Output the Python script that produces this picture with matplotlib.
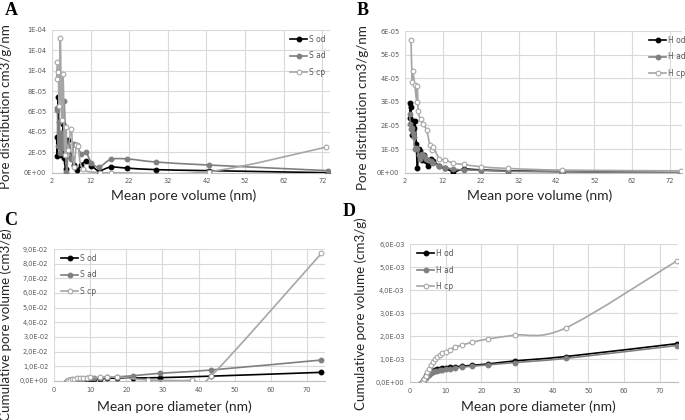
import numpy as np
import matplotlib
matplotlib.use("Agg")
import matplotlib.pyplot as plt
from matplotlib.path import Path
from matplotlib.patches import PathPatch
from matplotlib.lines import Line2D

# ---- data ----
# A: pore distribution, S samples
a_x = [3.2, 3.4, 3.6, 3.85, 4.2, 4.45, 4.9, 5.15, 5.75, 6.2, 7.05, 7.65, 8.5, 9.6, 10.8, 12.2, 14.2, 17.2, 21.5, 28.9, 42.7, 73.5]
a_od = [3.5, 1.6, 7.4, 2.6, 3.7, 1.7, 4.8, 1.4, 0.4, 3.2, 1.4, 0.8, 0.3, 0.8, 1.1, 0.7, 0.2, 0.55, 0.45, 0.3, 0.2, 0.0]
a_ad = [6.3, 6.2, 2.6, 5.0, 1.9, 3.9, 2.4, 7.0, 0.1, 2.4, 1.3, 2.8, 2.7, 1.8, 2.0, 1.0, 0.55, 1.3, 1.35, 1.05, 0.75, 0.2]
a_cp_x = [3.2, 3.4, 3.6, 3.9, 4.15, 4.5, 4.85, 5.3, 5.5, 6.1, 7.0, 7.6, 8.3, 8.8, 9.9, 14.4, 17.2, 42.6, 72.9]
a_cp = [9.2, 10.9, 9.9, 6.5, 13.2, 5.2, 9.7, 1.7, 4.5, 2.2, 4.3, 0.6, 2.7, 2.6, 0.4, 0.0, 0.0, 0.1, 2.5]

# B: pore distribution, H samples
b_x = [3.2, 3.4, 3.6, 3.8, 4.0, 4.3, 4.6, 5.0, 5.25, 5.6, 6.0, 6.5, 7.0, 7.5, 8.1, 8.8, 9.5, 11.0, 12.6, 14.8, 17.6, 22.0, 29.3, 43.6, 74.8]
b_od = [2.95, 2.3, 2.8, 1.6, 2.2, 1.9, 2.2, 1.2, 0.2, 1.0, 0.9, 0.55, 0.75, 0.5, 0.3, 0.6, 0.5, 0.3, 0.2, 0.05, 0.15, 0.12, 0.08, 0.05, 0.0]
b_ad = [2.5, 2.05, 1.85, 1.9, 1.7, 1.5, 1.0, 1.05, 1.0, 0.75, 0.6, 0.8, 0.7, 0.6, 0.55, 0.5, 0.4, 0.3, 0.22, 0.15, 0.12, 0.1, 0.06, 0.04, 0.0]
b_cp_x = [3.58, 3.9, 4.0, 4.6, 5.1, 5.26, 5.5, 6.1, 6.8, 7.7, 8.6, 9.2, 9.5, 11.0, 12.6, 14.8, 17.6, 22.0, 29.3, 43.6, 74.8]
b_cp = [5.62, 3.86, 4.32, 3.7, 3.0, 3.67, 2.6, 2.26, 2.05, 1.8, 1.17, 0.96, 1.1, 0.6, 0.54, 0.4, 0.35, 0.25, 0.18, 0.11, 0.08]

# C: cumulative pore volume, S samples (x 1e-2)
c_x = [3.5, 4.0, 4.5, 5.0, 5.6, 6.3, 7.1, 8.0, 9.0, 10.0, 11.2, 12.6, 14.6, 17.5, 21.9, 29.2, 43.4, 74.0]
c_od = [0.0, 0.02, 0.04, 0.06, 0.08, 0.09, 0.11, 0.12, 0.13, 0.15, 0.16, 0.17, 0.18, 0.2, 0.21, 0.23, 0.33, 0.59]
c_ad = [0.0, 0.03, 0.06, 0.08, 0.1, 0.12, 0.14, 0.16, 0.18, 0.2, 0.21, 0.23, 0.26, 0.29, 0.36, 0.52, 0.75, 1.43]
c_cp_x = [3.5, 4.0, 4.5, 5.0, 5.6, 6.3, 7.1, 8.0, 9.0, 10.0, 12.6, 14.6, 17.5, 26.0, 38.3, 43.4, 74.0]
c_cp = [0.0, 0.06, 0.1, 0.14, 0.17, 0.19, 0.2, 0.21, 0.22, 0.24, 0.24, 0.25, 0.27, 0.07, 0.05, 0.32, 8.7]

# D: cumulative pore volume, H samples (x 1e-3)
d_x = [3.4, 3.7, 4.0, 4.4, 4.9, 5.3, 5.9, 6.4, 7.0, 7.6, 8.3, 9.1, 10.0, 11.1, 12.6, 14.6, 17.5, 22.0, 29.4, 43.6, 74.8]
d_od = [0.0, 0.05, 0.15, 0.26, 0.36, 0.42, 0.47, 0.51, 0.54, 0.57, 0.59, 0.61, 0.63, 0.65, 0.67, 0.7, 0.74, 0.8, 0.93, 1.12, 1.68]
d_ad = [0.0, 0.03, 0.1, 0.18, 0.27, 0.33, 0.39, 0.43, 0.47, 0.5, 0.53, 0.55, 0.58, 0.6, 0.62, 0.66, 0.7, 0.76, 0.86, 1.04, 1.6]
d_cp = [0.0, 0.05, 0.15, 0.27, 0.45, 0.6, 0.75, 0.89, 1.0, 1.1, 1.2, 1.28, 1.33, 1.42, 1.52, 1.62, 1.74, 1.89, 2.05, 2.36, 5.28]

a_yticklabels = ["0E+00", "2E-05", "4E-05", "6E-05", "8E-05", "1E-04", "1E-04", "1E-04"]
b_yticklabels = ["0E+00", "1E-05", "2E-05", "3E-05", "4E-05", "5E-05", "6E-05"]
c_yticklabels = ["0,0E+00", "1,0E-02", "2,0E-02", "3,0E-02", "4,0E-02", "5,0E-02", "6,0E-02", "7,0E-02", "8,0E-02", "9,0E-02"]
d_yticklabels = ["0,0E+00", "1,0E-03", "2,0E-03", "3,0E-03", "4,0E-03", "5,0E-03", "6,0E-03"]

LABEL_FONT = "Lato"
XLABEL_SIZE = 10
YLABEL_SIZE = 9.6
GRID = "#d9d9d9"
TICK = "#595959"
styles = {
    "od": dict(line="#000000", face="#000000", edge="#000000"),
    "ad": dict(line="#7f7f7f", face="#7f7f7f", edge="#7f7f7f"),
    "cp": dict(line="#a6a6a6", face="#ffffff", edge="#a6a6a6"),
}


def smooth_line(ax, x, y, color, z):
    # excel-like smoothed line (catmull-rom as cubic bezier)
    pts = np.column_stack([x, y]).astype(float)
    n = len(pts)
    verts = [pts[0]]
    codes = [Path.MOVETO]
    for i in range(n - 1):
        p0 = pts[i - 1] if i > 0 else pts[i]
        p1 = pts[i]
        p2 = pts[i + 1]
        p3 = pts[i + 2] if i + 2 < n else pts[i + 1]
        verts += [p1 + (p2 - p0) / 6, p2 - (p3 - p1) / 6, p2]
        codes += [Path.CURVE4] * 3
    ax.add_patch(PathPatch(Path(verts, codes), fill=False, edgecolor=color,
                           lw=1.2, zorder=z, capstyle="round"))


def panel(rect, series, xlim, xticks, yscale, ymax, ystep, ylabels,
          xlabel, ylabel, legloc, legbox):
    ax = fig.add_axes(rect)
    z = 3
    handles = []
    for name, x, y in series:
        st = styles[name[-2:]]
        yy = np.array(y) * yscale
        smooth_line(ax, x, yy, st["line"], z)
        ax.plot(x, yy, ls="none", marker="o", ms=3.4, mfc=st["face"],
                mec=st["edge"], mew=0.8, zorder=z + 0.5)
        handles.append(Line2D([], [], color=st["line"], lw=1.2, marker="o", ms=3.4,
                              mfc=st["face"], mec=st["edge"], mew=0.8, label=name))
        z += 1
    ax.set_xlim(*xlim)
    ax.set_ylim(0, ymax)
    ax.set_xticks(xticks)
    ax.set_yticks(np.arange(len(ylabels)) * ystep, ylabels)
    ax.grid(True, color=GRID, lw=0.8)
    ax.set_axisbelow(True)
    for s in ["top", "right", "left"]:
        ax.spines[s].set_visible(False)
    ax.spines["bottom"].set_color("#bfbfbf")
    ax.spines["bottom"].set_linewidth(0.8)
    ax.tick_params(length=0, labelsize=4.8, labelcolor=TICK, pad=4)
    ax.set_xlabel(xlabel, fontsize=XLABEL_SIZE, family=LABEL_FONT, color="#262626")
    ax.set_ylabel(ylabel, fontsize=YLABEL_SIZE, family=LABEL_FONT, color="#262626")
    leg = ax.legend(handles=handles, loc=legloc, bbox_to_anchor=legbox, frameon=False,
                    fontsize=5.5, handlelength=2.2, handletextpad=0.2,
                    labelspacing=1.0, borderaxespad=0.2)
    for t in leg.get_texts():
        t.set_color(TICK)
    return ax


fig = plt.figure(figsize=(6.85, 4.2), dpi=100)
W, H = 685.0, 420.0


def rect(l, r, t, b):
    return [l / W, 1 - b / H, (r - l) / W, (b - t) / H]


ax_a = panel(rect(52, 330, 30, 172.7),
             [("S od", a_x, a_od), ("S ad", a_x, a_ad), ("S cp", a_cp_x, a_cp)],
             (2, 74.0), np.arange(2, 73, 10), 1e-5, 1.4e-4, 2e-5, a_yticklabels,
             "Mean pore volume (nm)", "Pore distribution cm3/g/nm",
             "upper right", (1.0, 1.0))
ax_b = panel(rect(405, 681.7, 31, 172.7),
             [("H od", b_x, b_od), ("H ad", b_x, b_ad), ("H cp", b_cp_x, b_cp)],
             (2, 75.1), np.arange(2, 73, 10), 1e-5, 6e-5, 1e-5, b_yticklabels,
             "Mean pore volume (nm)", "Pore distribution cm3/g/nm",
             "upper right", (1.03, 1.0))
ax_c = panel(rect(54, 325, 249, 381),
             [("S od", c_x, c_od), ("S ad", c_x, c_ad), ("S cp", c_cp_x, c_cp)],
             (0, 75), np.arange(0, 71, 10), 1e-2, 9e-2, 1e-2, c_yticklabels,
             "Mean pore diameter (nm)", "Cumulative pore volume (cm3/g)",
             "upper left", (0.01, 1.0))
ax_d = panel(rect(410, 678.3, 244.3, 382.3),
             [("H od", d_x, d_od), ("H ad", d_x, d_ad), ("H cp", d_x, d_cp)],
             (0, 75.2), np.arange(0, 71, 10), 1e-3, 6e-3, 1e-3, d_yticklabels,
             "Mean pore diameter (nm)", "Cumulative pore volume (cm3/g)",
             "upper left", (0.01, 1.0))

# label positions (axes fractions)
ax_a.xaxis.set_label_coords(0.475, -0.12)
ax_a.yaxis.set_label_coords(-0.145, 0.46)
ax_b.xaxis.set_label_coords(0.488, -0.12)
ax_b.yaxis.set_label_coords(-0.13, 0.46)
ax_c.xaxis.set_label_coords(0.443, -0.144)
ax_c.yaxis.set_label_coords(-0.155, 0.43)
ax_d.xaxis.set_label_coords(0.478, -0.128)
ax_d.yaxis.set_label_coords(-0.16, 0.5)

for letter, x, y in [("A", 5, 2), ("B", 357, 2), ("C", 4, 212), ("D", 343, 203)]:
    fig.text(x / W, 1 - y / H, letter, family="Liberation Serif", weight="bold",
             fontsize=13, va="top", ha="left")

fig.savefig("out.png", dpi=100)
